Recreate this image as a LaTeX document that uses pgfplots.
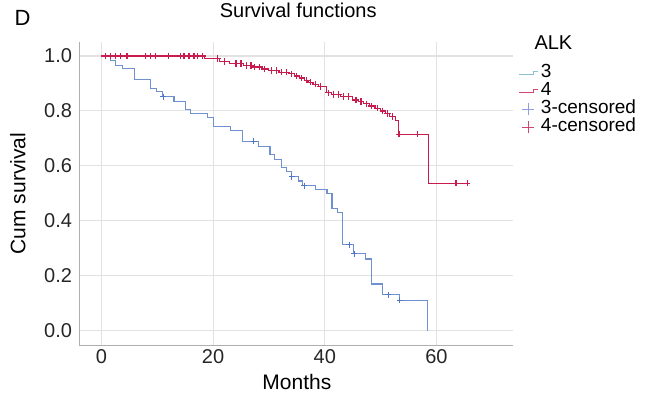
\documentclass[border=0pt]{standalone}
\usepackage{fontspec}
\setmainfont{Liberation Sans}
\usepackage{pgfplots}
\pgfplotsset{compat=1.18}
\definecolor{kmblue}{RGB}{112,145,208}
\definecolor{kmbluemk}{RGB}{80,118,200}
\definecolor{kmred}{RGB}{200,28,78}
\definecolor{legblue}{RGB}{140,190,212}
\definecolor{legbluemk}{RGB}{140,158,225}
\definecolor{legred}{RGB}{210,70,108}
\definecolor{gridc}{RGB}{226,226,226}
\definecolor{axc}{RGB}{175,175,175}
\begin{document}
\begin{tikzpicture}
\useasboundingbox (-79pt,-64pt) rectangle (567pt,345pt);
\begin{axis}[
 at={(0pt,0pt)}, anchor=south west, scale only axis, width=434pt, height=303pt,
 xmin=-4, xmax=73.7, ymin=-0.052, ymax=1.051,
 axis lines*=left, axis line style={draw=axc, line width=0.9pt},
 xtick={0,20,40,60}, ytick={0,0.2,0.4,0.6,0.8,1.0},
 major tick length=0pt,
 grid=major, major grid style={draw=gridc, line width=1.1pt},
 ticklabel style={font=\fontsize{20}{24}\selectfont, text=black!85},
 /pgf/number format/assume math mode=true,
 yticklabel style={xshift=-3.5pt, /pgf/number format/fixed, /pgf/number format/fixed zerofill, /pgf/number format/precision=1},
 xticklabel style={yshift=-1.5pt},
 title={Survival functions},
 title style={font=\fontsize{20}{24}\selectfont, at={(axis description cs:0.505,1)}, anchor=base, yshift=18.7pt},
 xlabel={Months}, ylabel={Cum survival},
 every axis x label/.style={at={(axis description cs:0.502,-0.122)}, anchor=center, font=\fontsize{21}{25}\selectfont},
 every axis y label/.style={at={(axis description cs:-0.1406,0.5)}, rotate=90, anchor=center, font=\fontsize{21}{25}\selectfont},
 legend style={at={(axis description cs:1.0138,0.927)}, anchor=north west, draw=none, fill=none, inner sep=0pt, outer sep=0pt, row sep=0pt,
   font=\fontsize{19}{22}\selectfont, nodes={inner ysep=0pt, text height=13.5pt, text depth=4.5pt}},
 legend cell align=left,
]
\addplot[const plot, color=kmblue, line width=1.1pt, mark=none,
  legend image code/.code={\draw[color=legblue, line width=1pt] (1pt,-1.5pt) -- (15pt,-1.5pt) -- (15pt,2pt) -- (20pt,2pt);}]
 coordinates {(0,1.0)(1.6,0.983)(2.5,0.966)(3.8,0.956)(6.0,0.915)(8.8,0.883)(9.8,0.870)(10.9,0.852)(13.0,0.834)(15.1,0.806)(16.0,0.790)(19.0,0.775)(20.1,0.745)(23.1,0.728)(25.2,0.690)(28.2,0.672)(30.2,0.640)(31.0,0.622)(32.3,0.595)(33.2,0.578)(34.0,0.561)(35.3,0.545)(36.0,0.528)(38.3,0.515)(40.4,0.498)(41.3,0.446)(42.2,0.430)(43.2,0.313)(45.2,0.280)(47.3,0.261)(48.3,0.170)(50.3,0.131)(53.3,0.110)(58.4,0.000)};
\addlegendentry{3}
\addplot[const plot, color=kmred, line width=1.1pt, mark=none,
  legend image code/.code={\draw[color=legred, line width=1pt] (1pt,-1.5pt) -- (15pt,-1.5pt) -- (15pt,2pt) -- (20pt,2pt);}]
 coordinates {(0,1.0)(18.4,0.991)(21.2,0.980)(23.0,0.972)(25.4,0.966)(27.0,0.960)(28.8,0.953)(30.0,0.947)(31.8,0.941)(33.6,0.935)(34.6,0.927)(35.5,0.920)(36.3,0.912)(37.0,0.905)(37.9,0.897)(38.8,0.889)(40.3,0.866)(41.2,0.860)(42.8,0.852)(45.0,0.840)(46.0,0.834)(47.0,0.826)(48.0,0.818)(49.0,0.810)(50.0,0.800)(50.8,0.790)(51.6,0.780)(52.6,0.765)(53.2,0.715)(58.6,0.537)(65.5,0.537)};
\addlegendentry{4}
\addplot[only marks, mark=+, mark size=3pt, color=kmbluemk, line width=0.9pt,
  legend image code/.code={\draw[color=legbluemk, line width=0.9pt] (4pt,0pt) -- (16pt,0pt) (10pt,-6pt) -- (10pt,6pt);}]
 coordinates {(11.1,0.852)(27.3,0.690)(34.1,0.561)(36.3,0.528)(44.4,0.313)(45.3,0.280)(51.4,0.131)(53.4,0.110)};
\addlegendentry{3-censored}
\addplot[only marks, mark=+, mark size=3.2pt, color=kmred, line width=1.2pt,
  legend image code/.code={\draw[color=legred, line width=1pt] (4pt,0pt) -- (16pt,0pt) (10pt,-6pt) -- (10pt,6pt);}]
 coordinates {(0.7,1.0)(1.6,1.0)(2.5,1.0)(3.4,1.0)(4.6,1.0)(7.9,1.0)(8.8,1.0)(9.7,1.0)(12.0,1.0)(14.2,1.0)(14.8,1.0)(15.7,1.0)(16.6,1.0)(17.2,1.0)(18.1,1.0)(20.8,0.991)(22.0,0.980)(24.1,0.972)(25.0,0.972)(26.0,0.966)(26.8,0.966)(27.4,0.960)(28.3,0.960)(29.2,0.953)(30.4,0.947)(31.3,0.947)(32.3,0.941)(33.2,0.941)(34.1,0.935)(35.0,0.927)(35.9,0.920)(36.8,0.912)(37.4,0.905)(38.3,0.897)(39.2,0.889)(40.7,0.866)(41.6,0.860)(42.5,0.860)(43.4,0.852)(44.3,0.852)(45.6,0.840)(46.5,0.834)(47.4,0.826)(48.3,0.818)(49.5,0.810)(50.4,0.800)(51.2,0.790)(52.1,0.780)(53.3,0.715)(56.6,0.715)(63.5,0.537)(65.5,0.537)};
\addlegendentry{4-censored}
\end{axis}
\node[anchor=base west, font=\fontsize{20}{24}\selectfont] at (452pt,295pt) {ALK};
\node[anchor=base west, font=\fontsize{22}{26}\selectfont] at (-68pt,319pt) {D};
\end{tikzpicture}
\end{document}
